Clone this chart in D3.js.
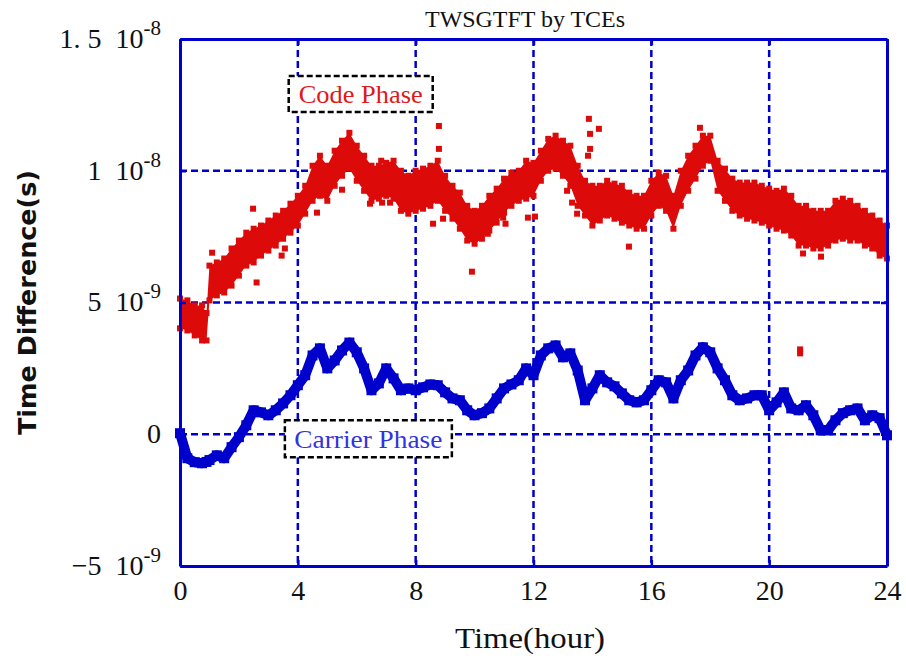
<!DOCTYPE html>
<html>
<head>
<meta charset="utf-8">
<script src="https://cdn.jsdelivr.net/npm/d3@7"></script>
<style>
body { margin: 0; background: #fff; }
text { white-space: pre; }
</style>
</head>
<body>
<div id="chart"></div>
<script>
// sample times (hour) and values, in ns
const hours = [0,0.25,0.5,0.75,0.9,1,1.25,1.5,1.75,2,2.25,2.5,2.75,3,3.25,3.5,3.75,
    4,4.25,4.5,4.75,5,5.25,5.5,5.75,6,6.25,6.5,6.75,7,7.25,7.5,7.75,
    8,8.25,8.5,8.75,9,9.25,9.5,9.75,10,10.25,10.5,10.75,11,11.25,11.5,11.75,
    12,12.25,12.5,12.75,13,13.25,13.5,13.75,14,14.25,14.5,14.75,15,15.25,15.5,15.75,
    16,16.25,16.5,16.75,17,17.25,17.5,17.75,18,18.25,18.5,18.75,19,19.25,19.5,19.75,
    20,20.25,20.5,20.75,21,21.25,21.5,21.75,22,22.25,22.5,22.75,23,23.25,23.5,23.75,24];

const codeHigh = [5.15,5.08,4.89,4.89,4.60, 6.40,6.52,6.67,7.05, 7.35,7.65,7.80,7.92, 8.11,8.30,8.48,8.75,
    9.05,9.43,10.19,10.57, 10.19,10.76,11.14,11.44, 10.95,10.57,10.19,10.19, 10.30,10.38,10.00,9.81,
    10.00,10.08,10.19,10.38, 9.81,9.43,9.17,8.67, 8.48,8.67,9.05,9.32, 9.70,9.92,10.00,10.38,
    10.30,10.76,11.21,11.33, 11.14,10.95,10.19,9.62, 9.43,9.43,9.62,9.51, 9.43,9.17,9.05,9.05,
    9.62,9.92,9.81,9.05, 10.00,10.57,10.95,11.33, 11.33,10.38,10.08,9.70, 9.55,9.55,9.55,9.43,
    9.32,9.24,9.32,9.05, 8.67,8.67,8.48,8.48, 8.48,8.86,8.94,8.86, 8.67,8.48,8.30,8.11, 7.92];

const codeLow = [4.02,3.94,3.75,3.56,3.56, 5.08,5.27,5.38,5.64, 6.02,6.40,6.52,6.78, 6.97,7.16,7.42,7.65,
    7.92,8.37,8.86,9.05, 8.86,9.43,9.81,10.08, 9.62,9.24,8.86,8.94, 9.05,8.94,8.48,8.37,
    8.48,8.56,8.67,8.86, 8.48,8.18,7.80,7.35, 7.23,7.42,7.73,8.03, 8.41,8.67,8.86,8.94,
    9.05,9.62,10.00,10.08, 9.81,9.43,8.67,8.30, 7.92,8.11,8.30,8.18, 8.03,7.92,7.80,7.80,
    8.30,8.67,8.48,7.80, 8.67,9.24,9.70,10.19, 10.38,9.24,8.86,8.48, 8.30,8.18,8.11,8.03,
    7.92,7.80,7.73,7.54, 7.16,7.16,7.05,7.05, 7.16,7.35,7.42,7.35, 7.35,7.16,7.05,6.78, 6.67];

const carrier = [0.04,-0.91,-1.06,-1.10,-1.05, -0.98,-0.80,-0.91,-0.49, -0.11,0.34,0.91,0.83, 0.72,0.91,1.17,1.48,
    1.86,2.24,2.99,3.26, 2.50,2.80,3.18,3.48, 3.11,2.50,1.67,1.93, 2.50,2.12,1.67,1.74,
    1.67,1.78,1.89,1.86, 1.59,1.36,1.29,0.91, 0.72,0.80,0.98,1.36, 1.74,1.89,2.05,2.50,
    2.24,2.99,3.26,3.37, 2.92,3.07,2.42,1.29, 1.74,2.24,1.97,1.82, 1.55,1.29,1.21,1.29,
    1.67,2.05,1.97,1.36, 2.05,2.42,2.99,3.30, 3.11,2.50,2.05,1.48, 1.29,1.36,1.48,1.48,
    0.91,1.21,1.59,0.98, 0.91,1.10,0.72,0.15, 0.15,0.53,0.80,0.91, 0.98,0.53,0.72,0.61, -0.04];

// scattered code phase points off the main band
const outlierHours = [1.09,2.48,2.6,3.45,3.56,4.65,5.5,6.45,6.83,6.86,7.13,8.59,8.79,8.79,8.93,
    9.91,10.45,10.97,11.05,11.81,12.05,13.14,13.31,13.48,13.85,13.88,13.92,13.92,14.22,15.24,
    17.65,21.05,21.05,21.15,21.76];
const outlierValues = [6.89,8.56,5.76,6.78,7.05,8.41,9.28,8.75,10.38,8.79,8.79,7.99,11.70,10.83,8.18,
    6.17,7.61,8.22,7.99,8.22,8.26,9.24,8.79,8.37,10.57,11.97,11.40,10.83,11.59,7.12,
    11.63,3.07,3.22,6.86,6.74];

const xTicks = [0, 4, 8, 12, 16, 20, 24];
const yTicks = [-5, 0, 5, 10, 15];
const yTickMantissa = ['\u22125', '0', '5', '1', '1. 5'];
const yTickExponent = ['-9', '', '-9', '-8', '-8'];

const margin = {top: 39, right: 19, bottom: 92, left: 180};
const W = 906, H = 658;
const width = W - margin.left - margin.right;
const height = H - margin.top - margin.bottom;
const blue = '#0000cc', red = '#dd0a0a';
const serif = '"Liberation Serif", "DejaVu Serif", serif';

var x = d3.scaleLinear().domain([0, 24]).range([0, width]);
var y = d3.scaleLinear().domain([-5, 15]).range([height, 0]);

var svg = d3.select('#chart').append('svg')
    .attr('width', W).attr('height', H)
    .style('font-family', serif);

var g = svg.append('g')
    .attr('transform', 'translate(' + margin.left + ',' + margin.top + ')');

// grid
var grid = g.append('g').attr('class', 'grid')
    .attr('stroke', blue).attr('stroke-width', 2.5).attr('stroke-dasharray', '7,4');
grid.selectAll('line.v')
    .data(xTicks.slice(1, -1))
    .join('line')
    .attr('x1', d => x(d)).attr('x2', d => x(d))
    .attr('y1', 0).attr('y2', height);
grid.selectAll('line.h')
    .data(yTicks.slice(1, -1))
    .join('line')
    .attr('x1', 0).attr('x2', width)
    .attr('y1', d => y(d)).attr('y2', d => y(d));

// code phase
var band = d3.area()
    .x((d, i) => x(hours[i]))
    .y0((d, i) => y(codeLow[i]))
    .y1((d, i) => y(codeHigh[i]));
var code = g.append('g').attr('fill', red);
code.append('path').datum(hours).attr('d', band);
var sq = 6;
hours.forEach(function(h, i) {
    [codeLow[i], codeHigh[i]].forEach(function(v) {
        code.append('rect')
            .attr('x', x(h) - sq / 2).attr('y', y(v) - sq / 2)
            .attr('width', sq).attr('height', sq);
    });
});
code.selectAll('rect.out')
    .data(outlierHours)
    .join('rect')
    .attr('x', d => x(d) - sq / 2)
    .attr('y', (d, i) => y(outlierValues[i]) - sq / 2)
    .attr('width', sq).attr('height', sq);

// carrier phase
var line = d3.line()
    .x((d, i) => x(hours[i]))
    .y(d => y(d));
g.append('path').datum(carrier)
    .attr('d', line)
    .attr('fill', 'none').attr('stroke', blue)
    .attr('stroke-width', 10).attr('stroke-linejoin', 'round');
g.append('g').attr('fill', blue)
    .selectAll('rect')
    .data(carrier)
    .join('rect')
    .attr('x', (d, i) => x(hours[i]) - 5)
    .attr('y', d => y(d) - 5)
    .attr('width', 10).attr('height', 10);

// axes with inward ticks
function styleAxis(sel) {
    sel.selectAll('.domain').attr('stroke', blue).attr('stroke-width', 3);
    sel.selectAll('.tick line').attr('stroke', blue).attr('stroke-width', 2.5);
}
g.append('g').attr('transform', 'translate(0,' + height + ')')
    .call(d3.axisBottom(x).tickValues(xTicks).tickSize(-6).tickSizeOuter(0).tickPadding(14))
    .call(styleAxis)
    .call(a => a.selectAll('text').attr('font-size', 28).attr('font-family', serif).attr('fill', '#111'));
g.append('g')
    .call(d3.axisTop(x).tickValues(xTicks).tickSize(-6).tickSizeOuter(0).tickFormat(''))
    .call(styleAxis);
g.append('g').attr('transform', 'translate(' + width + ',0)')
    .call(d3.axisRight(y).tickValues(yTicks).tickSize(-6).tickSizeOuter(0).tickFormat(''))
    .call(styleAxis);
var yAxis = g.append('g')
    .call(d3.axisLeft(y).tickValues(yTicks).tickSize(-6).tickSizeOuter(0).tickPadding(19))
    .call(styleAxis);
yAxis.selectAll('.tick text')
    .attr('font-size', 28).attr('font-family', serif).attr('fill', '#111')
    .attr('dy', '0.3em')
    .each(function(d, i) {
        var t = d3.select(this).text(null);
        t.append('tspan').text(yTickMantissa[i]);
        if (yTickExponent[i]) {
            t.append('tspan').text('  10');
            t.append('tspan').attr('dy', -13).attr('font-size', 21).text(yTickExponent[i]);
        }
    });

// label boxes
function labelBox(txt, hx, vy, w, h, colour, len) {
    var bx = g.append('g').attr('transform', 'translate(' + x(hx) + ',' + y(vy) + ')');
    bx.append('rect')
        .attr('width', w).attr('height', h)
        .attr('fill', '#fff').attr('stroke', '#000')
        .attr('stroke-width', 2.5).attr('stroke-dasharray', '6,3');
    bx.append('text')
        .attr('x', w / 2).attr('y', h / 2 + 9)
        .attr('text-anchor', 'middle')
        .attr('font-size', 26).attr('fill', colour)
        .attr('textLength', len).attr('lengthAdjust', 'spacingAndGlyphs')
        .text(txt);
}
labelBox('Code Phase', 3.69, 13.6, 144, 36, '#e01818', 124);
labelBox('Carrier Phase', 3.56, 0.53, 167, 37, '#3333dd', 148);

// titles
svg.append('text')
    .attr('x', 525).attr('y', 27)
    .attr('text-anchor', 'middle').attr('font-size', 24).attr('fill', '#111')
    .attr('textLength', 200).attr('lengthAdjust', 'spacingAndGlyphs')
    .text('TWSGTFT by TCEs');
svg.append('text')
    .attr('x', 530).attr('y', 648)
    .attr('text-anchor', 'middle').attr('font-size', 30).attr('fill', '#111')
    .attr('textLength', 150).attr('lengthAdjust', 'spacingAndGlyphs')
    .text('Time(hour)');
svg.append('text')
    .attr('transform', 'translate(36,' + (margin.top + y(5)) + ') rotate(-90)')
    .attr('text-anchor', 'middle')
    .attr('font-family', '"DejaVu Sans", sans-serif').attr('font-weight', 'bold')
    .attr('font-size', 24).attr('fill', '#111')
    .attr('textLength', 265).attr('lengthAdjust', 'spacingAndGlyphs')
    .text('Time Difference(s)');
</script>
</body>
</html>
